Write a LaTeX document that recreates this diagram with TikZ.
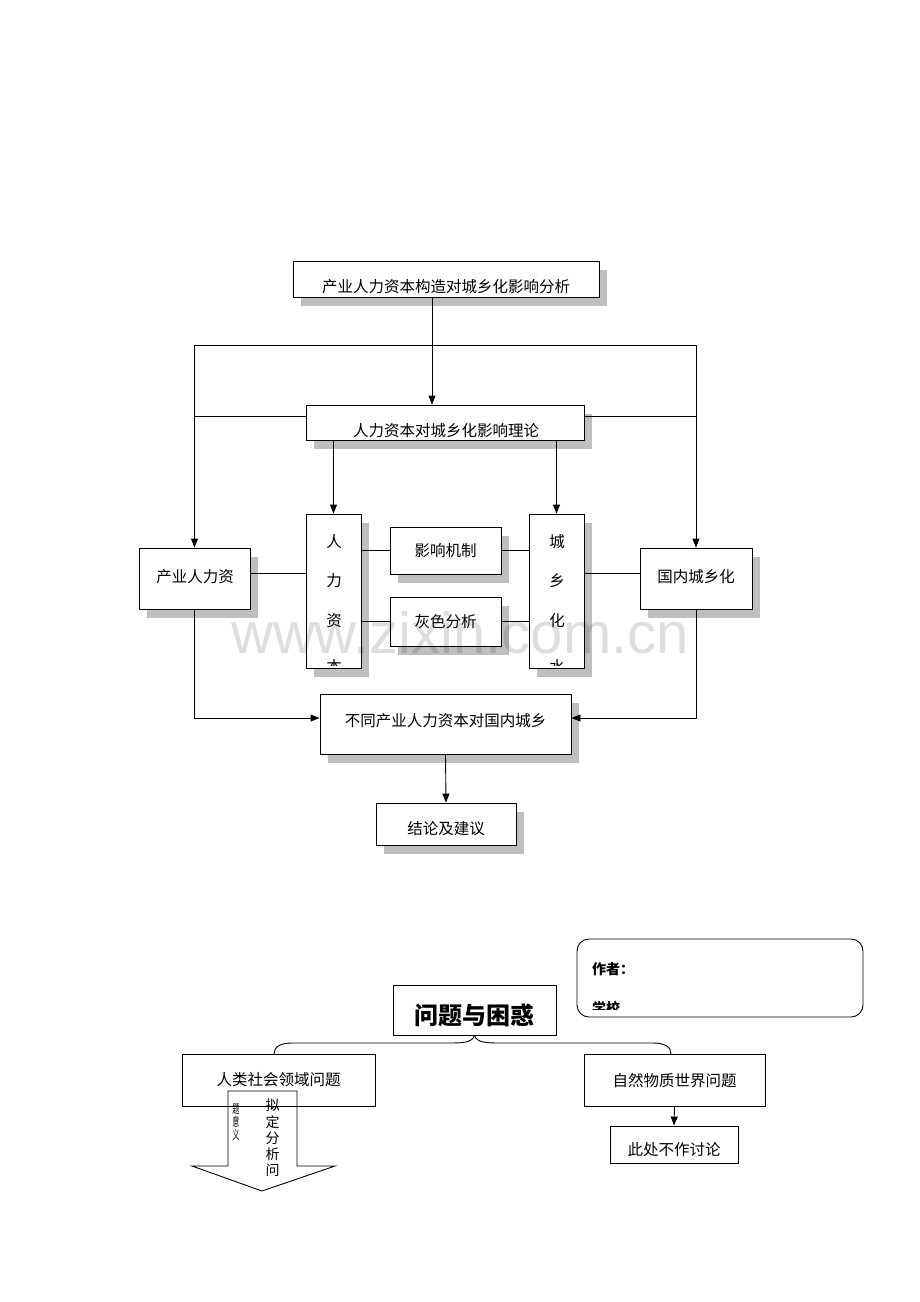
\documentclass[tikz,border=0pt]{standalone}
\usepackage{fontspec}
\setmainfont{Noto Sans CJK SC}
\newfontfamily\wmfont{Liberation Sans}
\usetikzlibrary{shadows,arrows.meta}
\begin{document}
\begin{tikzpicture}[x=1pt,y=-1pt,
  box/.style={draw, fill=white, line width=0.9pt, inner sep=0pt,
    drop shadow={shadow xshift=8pt, shadow yshift=-9pt, fill=black!25, opacity=1}},
  plain/.style={draw, fill=white, line width=0.9pt, inner sep=0pt},
  txt/.style={font=\fontsize{15.5}{16}\selectfont, inner sep=0pt},
  vtxt/.style={font=\fontsize{15.5}{16}\selectfont, inner sep=0pt},
  arr/.style={-{Triangle[length=9pt,width=7pt]}, line width=0.9pt},
  ln/.style={line width=0.9pt}]
\useasboundingbox (0,0) rectangle (920,1302);

% ---------- upper flow chart ----------
\node[box, minimum width=306pt, minimum height=36pt] (t1) at (446,279) {};
\node[box, minimum width=278pt, minimum height=35pt] (t2) at (445,422.5) {};
\node[box, minimum width=111pt, minimum height=61pt] (lbox) at (194.5,578.5) {};
\node[box, minimum width=55pt, minimum height=154pt] (hc) at (333.5,591) {};
\node[box, minimum width=111pt, minimum height=47pt] (m1) at (445.5,550.5) {};
\node[box, minimum width=111pt, minimum height=49pt] (m2) at (445.5,621.5) {};
\node[box, minimum width=55pt, minimum height=154pt] (uc) at (556.5,591) {};
\node[box, minimum width=112pt, minimum height=61pt] (rbox) at (696,578.5) {};
\node[box, minimum width=251pt, minimum height=60pt] (b1) at (445.5,724) {};
\node[box, minimum width=140pt, minimum height=42pt] (b2) at (446,824) {};

\node[txt] (t1t) at (446,287) {产业人力资本构造对城乡化影响分析};
\node[txt] (t2t) at (446,431) {人力资本对城乡化影响理论};
\node[txt] (lboxt) at (195,577) {产业人力资};
\node[txt] (m1t) at (445.5,551) {影响机制};
\node[txt] (m2t) at (445.5,622) {灰色分析};
\node[txt] (rboxt) at (696,577) {国内城乡化};
\node[txt] (b1t) at (445.5,721) {不同产业人力资本对国内城乡};
\node[txt] (b2t) at (446,829) {结论及建议};

\node[vtxt] (hc1) at (334,542) {人};
\node[vtxt] (hc2) at (334,581) {力};
\node[vtxt] (hc3) at (334,621) {资};
\node[vtxt] (uc1) at (557,542) {城};
\node[vtxt] (uc2) at (557,581) {乡};
\node[vtxt] (uc3) at (557,621) {化};
\begin{scope}
  \clip (hc.north west) rectangle ([yshift=3pt]hc.south east);
  \node[vtxt] (hc4) at (334,667) {本};
\end{scope}
\begin{scope}
  \clip (uc.north west) rectangle ([yshift=3pt]uc.south east);
  \node[vtxt] (uc4) at (557,667) {水};
\end{scope}

% connectors
\coordinate (jl) at (194.5,345);
\coordinate (jr) at (696,345);
\draw[ln] (jl) -- (jr);
\draw[arr] ([xshift=-14pt]t1.south) -- ([xshift=-14pt]t1.south |- t2.north);
\draw[arr] (jl) -- (lbox.north);
\draw[arr] (jr) -- (rbox.north);
\draw[ln] ([yshift=6.5pt]t2.west) -- ([yshift=6.5pt]t2.west -| lbox.north);
\draw[ln] ([yshift=6.5pt]t2.east) -- ([yshift=6.5pt]t2.east -| rbox.north);
\draw[arr] (hc.north |- t2.south) -- (hc.north);
\draw[arr] (uc.north |- t2.south) -- (uc.north);
\draw[ln] ([yshift=5pt]lbox.east) -- ([yshift=5pt]lbox.east -| hc.west);
\draw[ln] ([yshift=5pt]rbox.west) -- ([yshift=5pt]rbox.west -| uc.east);
\draw[ln] (m1.west) -- (m1.west -| hc.east);
\draw[ln] (m1.east) -- (m1.east -| uc.west);
\draw[ln] (m2.west) -- (m2.west -| hc.east);
\draw[ln] (m2.east) -- (m2.east -| uc.west);
\draw[arr] (lbox.south) |- ([yshift=6pt]b1.west);
\draw[arr] (rbox.south) |- ([yshift=6pt]b1.east);
\draw[arr] (b1.south) -- (b2.north);

% watermark
\node[font=\wmfont\fontsize{58}{58}\selectfont, text=black, opacity=0.13, anchor=base, inner sep=0pt] (wm) at (460,653) {www.zixin.com.cn};

% ---------- lower chart ----------
\node[plain, rounded corners=12pt, minimum width=286pt, minimum height=78pt] (auth) at (720,978) {};
\node[font=\bfseries\fontsize{14}{14}\selectfont, anchor=west, inner sep=0pt] (autht) at (592,969) {作者：};
\begin{scope}
  \clip (590,990) rectangle (700,1009);
  \node[font=\bfseries\fontsize{14}{14}\selectfont, anchor=west, inner sep=0pt] (scht) at (592,1008) {学校};
\end{scope}

\node[plain, minimum width=163pt, minimum height=50pt] (q) at (474.5,1010) {};
\node[font=\bfseries\fontsize{24}{24}\selectfont, inner sep=0pt] (qt) at (474.5,1015) {问题与困惑};
\node[plain, minimum width=193pt, minimum height=52pt] (s1) at (278.5,1080) {};
\node[plain, minimum width=181pt, minimum height=52pt] (s2) at (674.5,1080) {};
\node[plain, minimum width=128pt, minimum height=37pt] (s3) at (674,1144.5) {};
\node[txt] (s1t) at (278.5,1080) {人类社会领域问题};
\node[txt] (s2t) at (674.5,1081) {自然物质世界问题};
\node[txt] (s3t) at (674,1150) {此处不作讨论};

\coordinate (bl) at (274,1054);
\coordinate (br) at (671,1054);
\draw[ln] (q.south) .. controls (472,1043) and (462,1043) .. (447,1043) -- (292,1043)
  .. controls (280,1043) and (274,1047) .. (bl);
\draw[ln] (q.south) .. controls (477,1043) and (487,1043) .. (502,1043) -- (653,1043)
  .. controls (665,1043) and (671,1047) .. (br);
\draw[arr] (s2.south) -- (s3.north);

% big down arrow
\draw[ln] (228,1091) -- (297,1091) -- (297,1166) -- (335,1166) -- (262,1191)
  -- (192,1166) -- (228,1166) -- cycle;
\node[font=\fontsize{14}{16.3}\selectfont, align=center, inner sep=0pt] (arrt) at (272.5,1138) {拟\\定\\分\\析\\问};
\node[font=\fontsize{12}{13}\selectfont, align=center, inner sep=0pt, xscale=0.6] (arrs) at (236,1122) {题\\意\\义};
\end{tikzpicture}
\end{document}
